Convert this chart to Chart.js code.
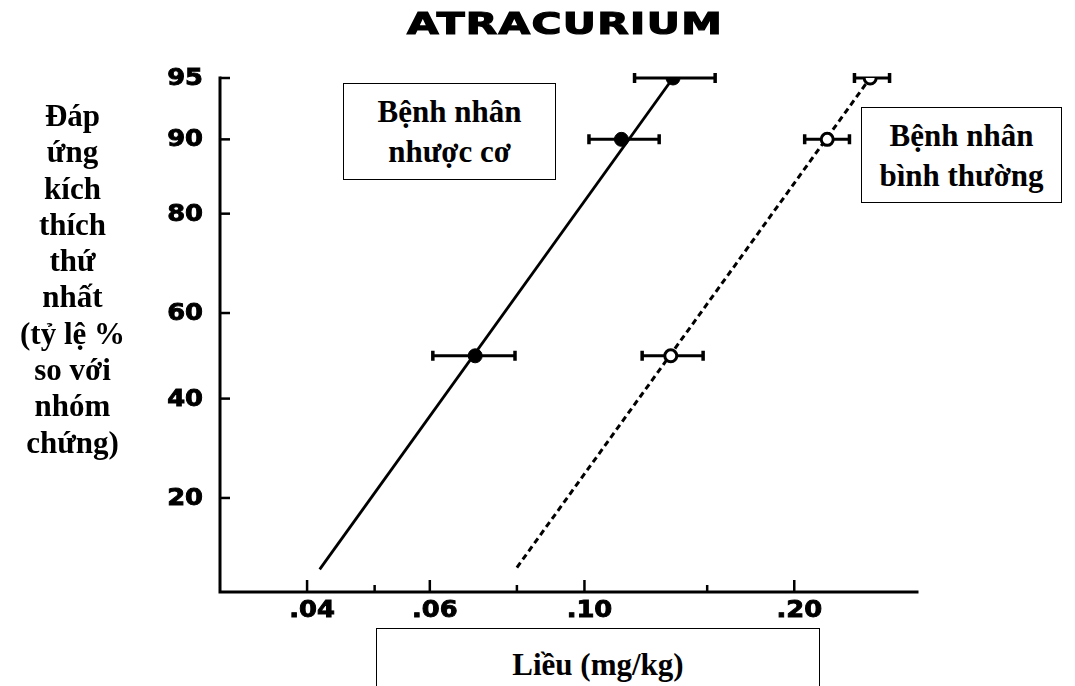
<!DOCTYPE html>
<html>
<head>
<meta charset="utf-8">
<script src="https://cdn.jsdelivr.net/npm/chart.js@4.4.1/dist/chart.umd.min.js"></script>
<style>
  html, body { margin: 0; padding: 0; background: #fff; }
  #wrap { position: relative; width: 1075px; height: 686px; overflow: hidden; }
  #graph { position: absolute; left: 0; top: 0; }
  .title {
    position: absolute; left: 565px; top: 9px;
    font: bold 30px "DejaVu Sans", sans-serif; line-height: 30px;
    letter-spacing: 1px; white-space: nowrap;
    -webkit-text-stroke: 1.2px #000;
    transform: translateX(-50%) scaleX(1.36);
  }
  .ylab {
    position: absolute; left: 0; top: 98px; width: 145px;
    font: bold 31px "Liberation Serif", serif; line-height: 36.3px;
    text-align: center;
  }
  .box {
    position: absolute; box-sizing: border-box; border: 1.5px solid #000;
    background: #fff; text-align: center;
    font: bold 31px "Liberation Serif", serif; line-height: 40px;
  }
</style>
</head>
<body>
<div id="wrap">
  <canvas id="graph" width="1075" height="686"></canvas>
  <div class="title">ATRACURIUM</div>
  <div class="ylab">Đáp<br>ứng<br>kích<br>thích<br>thứ<br>nhất<br>(tỷ lệ %<br>so với<br>nhóm<br>chứng)</div>
  <div class="box" style="left:343px; top:83px; width:213px; height:97px; padding-top:8px;">Bệnh nhân<br>nhược cơ</div>
  <div class="box" style="left:861px; top:107px; width:201px; height:96px; padding-top:8px;">Bệnh nhân<br>bình thường</div>
  <div class="box" style="left:376px; top:628px; width:444px; height:80px; padding-top:16px;">Liều (mg/kg)</div>
</div>
<script>
// dose axis (log) and response axis (probit)
const majorDoses = [0.04, 0.06, 0.10, 0.20];
const majorLabels = ['.04', '.06', '.10', '.20'];
const minorDoses = [0.05, 0.08, 0.15];
const pctTicks = [20, 40, 60, 80, 90, 95];
const doseMin = 0.03;
const doseMax = 0.30;
const pctMin = 8.1;
const pctMax = 95;

// measured points, with dose range (error bars)
const responsePct = [50, 90, 95];
const mgDose = [0.0697, 0.113, 0.134];
const mgLow = [0.0606, 0.1015, 0.118];
const mgHigh = [0.0795, 0.128, 0.154];
const normDose = [0.133, 0.223, 0.257];
const normLow = [0.121, 0.207, 0.244];
const normHigh = [0.148, 0.240, 0.274];

// fitted regression lines
const mgLineDose = [0.0417, 0.134];
const mgLinePct = [10.3, 95];
const normLineDose = [0.080, 0.257];
const normLinePct = [10.5, 95];

// inverse normal CDF (Acklam), percent -> probit z
function probit(pct) {
  const p = pct / 100;
  const a = [-39.69683028665376, 220.9460984245205, -275.9285104469687, 138.3577518672690, -30.66479806614716, 2.506628277459239];
  const b = [-54.47609879822406, 161.5858368580409, -155.6989798598866, 66.80131188771972, -13.28068155288572];
  const c = [-0.007784894002430293, -0.3223964580411365, -2.400758277161838, -2.549732539343734, 4.374664141464968, 2.938163982698783];
  const d = [0.007784695709041462, 0.3224671290700398, 2.445134137142996, 3.754408661907416];
  const pl = 0.02425;
  let q, r;
  if (p < pl) {
    q = Math.sqrt(-2 * Math.log(p));
    return (((((c[0]*q+c[1])*q+c[2])*q+c[3])*q+c[4])*q+c[5]) / ((((d[0]*q+d[1])*q+d[2])*q+d[3])*q+1);
  }
  if (p > 1 - pl) {
    q = Math.sqrt(-2 * Math.log(1 - p));
    return -(((((c[0]*q+c[1])*q+c[2])*q+c[3])*q+c[4])*q+c[5]) / ((((d[0]*q+d[1])*q+d[2])*q+d[3])*q+1);
  }
  q = p - 0.5; r = q * q;
  return (((((a[0]*r+a[1])*r+a[2])*r+a[3])*r+a[4])*r+a[5])*q / (((((b[0]*r+b[1])*r+b[2])*r+b[3])*r+b[4])*r+1);
}

function toPoints(doses, pcts) {
  return doses.map((x, i) => ({ x: x, y: probit(pcts[i]) }));
}

const errorBars = {
  id: 'errorBars',
  beforeDatasetsDraw(chart) {
    const ctx = chart.ctx, xs = chart.scales.x, ys = chart.scales.y;
    const groups = [[mgLow, mgHigh], [normLow, normHigh]];
    ctx.save();
    ctx.strokeStyle = '#000';
    ctx.lineCap = 'butt';
    groups.forEach(([lo, hi]) => {
      responsePct.forEach((pct, i) => {
        const y = ys.getPixelForValue(probit(pct));
        const x1 = xs.getPixelForValue(lo[i]);
        const x2 = xs.getPixelForValue(hi[i]);
        ctx.lineWidth = 3;
        ctx.beginPath();
        ctx.moveTo(x1, y); ctx.lineTo(x2, y);
        ctx.stroke();
        ctx.lineWidth = 3.5;
        ctx.beginPath();
        ctx.moveTo(x1, y - 5); ctx.lineTo(x1, y + 5);
        ctx.moveTo(x2, y - 5); ctx.lineTo(x2, y + 5);
        ctx.stroke();
      });
    });
    ctx.restore();
  }
};

// wide bold numerals for the tick labels
function stretchedText(ctx, text, x, y, align) {
  ctx.save();
  ctx.translate(x, y);
  ctx.scale(1.12, 1);
  ctx.textAlign = align;
  ctx.lineWidth = 0.9;
  ctx.fillText(text, 0, 0);
  ctx.strokeText(text, 0, 0);
  ctx.restore();
}

const axesDraw = {
  id: 'axesDraw',
  afterDraw(chart) {
    const ctx = chart.ctx, xs = chart.scales.x, ys = chart.scales.y;
    const area = chart.chartArea;
    ctx.save();
    ctx.strokeStyle = '#000';
    ctx.fillStyle = '#000';
    ctx.lineWidth = 3;
    ctx.lineCap = 'square';
    ctx.beginPath();
    ctx.moveTo(area.left, area.top);
    ctx.lineTo(area.left, area.bottom);
    ctx.lineTo(area.right, area.bottom);
    ctx.stroke();

    ctx.lineCap = 'butt';
    ctx.font = 'bold 23px "DejaVu Sans", sans-serif';
    ctx.textBaseline = 'middle';
    pctTicks.forEach(pct => {
      const y = ys.getPixelForValue(probit(pct));
      ctx.lineWidth = 2.5;
      ctx.beginPath();
      ctx.moveTo(area.left, y); ctx.lineTo(area.left + 10, y);
      ctx.stroke();
      stretchedText(ctx, String(pct), area.left - 17, y + 1, 'right');
    });

    majorDoses.forEach((dose, i) => {
      const x = xs.getPixelForValue(dose);
      ctx.lineWidth = 2.5;
      ctx.beginPath();
      ctx.moveTo(x, area.bottom); ctx.lineTo(x, area.bottom - 12);
      ctx.stroke();
      stretchedText(ctx, majorLabels[i], x + 5, area.bottom + 19, 'center');
    });
    minorDoses.forEach(dose => {
      const x = xs.getPixelForValue(dose);
      ctx.lineWidth = 2.5;
      ctx.beginPath();
      ctx.moveTo(x, area.bottom); ctx.lineTo(x, area.bottom - 7);
      ctx.stroke();
    });
    ctx.restore();
  }
};

new Chart(document.getElementById('graph'), {
  type: 'scatter',
  data: {
    datasets: [
      {
        data: toPoints(mgDose, responsePct),
        pointRadius: 7,
        pointBackgroundColor: '#000',
        pointBorderColor: '#000',
        pointBorderWidth: 1,
        showLine: false
      },
      {
        data: toPoints(normDose, responsePct),
        pointRadius: 6,
        pointBackgroundColor: '#fff',
        pointBorderColor: '#000',
        pointBorderWidth: 3,
        showLine: false
      },
      {
        data: toPoints(mgLineDose, mgLinePct),
        showLine: true,
        pointRadius: 0,
        borderColor: '#000',
        borderWidth: 2.8
      },
      {
        data: toPoints(normLineDose, normLinePct),
        showLine: true,
        pointRadius: 0,
        borderColor: '#000',
        borderWidth: 3,
        borderDash: [6, 4]
      }
    ]
  },
  options: {
    responsive: false,
    animation: false,
    events: [],
    layout: { padding: { left: 220, right: 158, top: 78, bottom: 94 } },
    plugins: { legend: { display: false }, tooltip: { enabled: false } },
    scales: {
      x: { type: 'logarithmic', min: doseMin, max: doseMax, display: false },
      y: { type: 'linear', min: probit(pctMin), max: probit(pctMax), display: false }
    }
  },
  plugins: [errorBars, axesDraw]
});
</script>
</body>
</html>
